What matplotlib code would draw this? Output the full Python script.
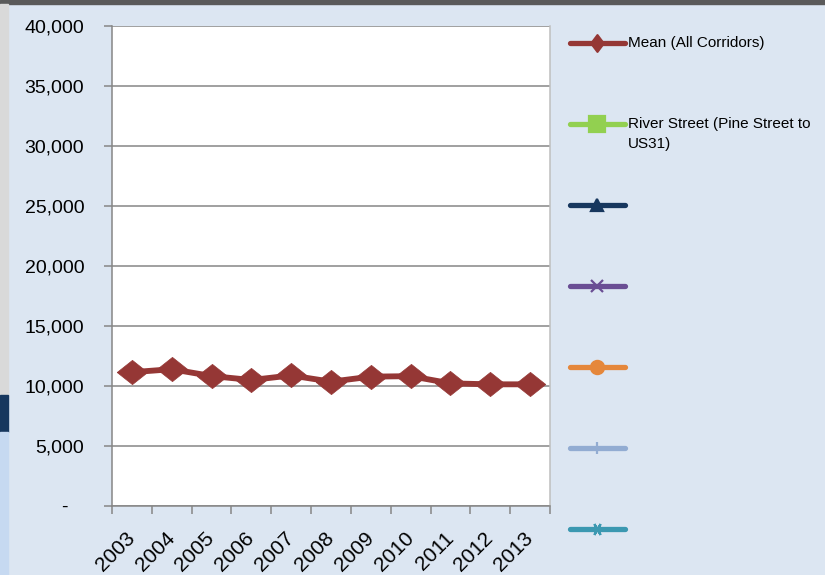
import matplotlib
matplotlib.use("Agg")
import matplotlib.pyplot as plt
from matplotlib.lines import Line2D
from matplotlib.patches import Rectangle
from matplotlib.ticker import FixedLocator, FuncFormatter

plt.rcParams['font.family'] = ['Liberation Sans', 'DejaVu Sans']

# Data
years = ['2003', '2004', '2005', '2006', '2007', '2008', '2009', '2010', '2011', '2012', '2013']
mean_all = [11150, 11400, 10830, 10500, 10880, 10360, 10780, 10820, 10220, 10140, 10140]

legend_labels = ['Mean (All Corridors)', 'River Street (Pine Street to\nUS31)', '', '', '', '', '']
legend_colors = ['#953735', '#92d050', '#17375e', '#6a4e94', '#e5873b', '#92acd2', '#3b98b1']

W, H = 825, 575
fig = plt.figure(figsize=(W / 100, H / 100), dpi=100, facecolor='#dce6f2')

# frame strips of the slide around the chart
fig.patches.append(Rectangle((0, 1 - 4 / H), 1, 4 / H, transform=fig.transFigure, color='#5a5a5a'))
fig.patches.append(Rectangle((0, 1 - 395 / H), 8 / W, (395 - 4) / H, transform=fig.transFigure, color='#d9d9d9'))
fig.patches.append(Rectangle((0, 1 - 432 / H), 8 / W, 37 / H, transform=fig.transFigure, color='#17375e'))
fig.patches.append(Rectangle((0, 0), 8 / W, 1 - 432 / H, transform=fig.transFigure, color='#c6d9f1'))

ax = fig.add_axes([112 / W, 69 / H, 438 / W, 480 / H])
ax.set_facecolor('white')

x = list(range(len(years)))
diamond = [(-1.26, 0), (0, 1), (1.26, 0), (0, -1), (-1.26, 0)]
ax.plot(x, mean_all, color='#953735', lw=4.2, marker=diamond, markersize=22,
        markeredgewidth=0.5, solid_joinstyle='round', zorder=5)

ax.set_xlim(-0.5, len(years) - 0.5)
ax.set_ylim(0, 40000)

grid_c = '#868686'
ax.yaxis.set_major_locator(FixedLocator(range(0, 40001, 5000)))
ax.yaxis.set_major_formatter(FuncFormatter(lambda v, p: '-   ' if v == 0 else f'{int(v):,}'))
ax.grid(axis='y', color=grid_c, lw=1.1)
ax.set_axisbelow(True)
ax.tick_params(axis='y', length=6, width=1.1, color=grid_c, pad=14, labelsize=14)

ax.set_xticks(x)
ax.set_xticklabels(years, rotation=45, ha='right', va='center', rotation_mode='anchor')
ax.set_xticks([i - 0.5 for i in range(len(years) + 1)], minor=True)
ax.tick_params(axis='x', which='major', length=0, pad=21, labelsize=15)
ax.tick_params(axis='x', which='minor', length=6, width=1.1, color=grid_c)

for s in ['left', 'bottom']:
    ax.spines[s].set_color(grid_c)
    ax.spines[s].set_linewidth(1.1)
ax.spines['top'].set_visible(False)
ax.spines['right'].set_color('#bfbfbf')
ax.spines['right'].set_linewidth(1.1)

# legend drawn to the right, one entry every 81 px
markers = [[(-0.75, 0), (0, 1), (0.75, 0), (0, -1), (-0.75, 0)], 's', '^', 'x', 'o', '+', (6, 2, 90)]
msizes = [12, 11, 9, 8, 9.5, 9, 9]
for i, (lab, col) in enumerate(zip(legend_labels, legend_colors)):
    yc = 1 - (43 + 81 * i) / H
    fig.add_artist(Line2D([570 / W, 625 / W], [yc, yc], transform=fig.transFigure,
                          color=col, lw=3.8, solid_capstyle='round'))
    fig.add_artist(Line2D([597 / W], [yc], transform=fig.transFigure, color=col,
                          marker=markers[i], markersize=msizes[i], markeredgewidth=1.6,
                          markeredgecolor=col, markerfacecolor=col))
    for j, line in enumerate(lab.split('\n')):
        fig.text(628 / W, yc - j * 20 / H, line, fontsize=11, va='center', ha='left')

fig.savefig('out.png', dpi=100, facecolor=fig.get_facecolor())
